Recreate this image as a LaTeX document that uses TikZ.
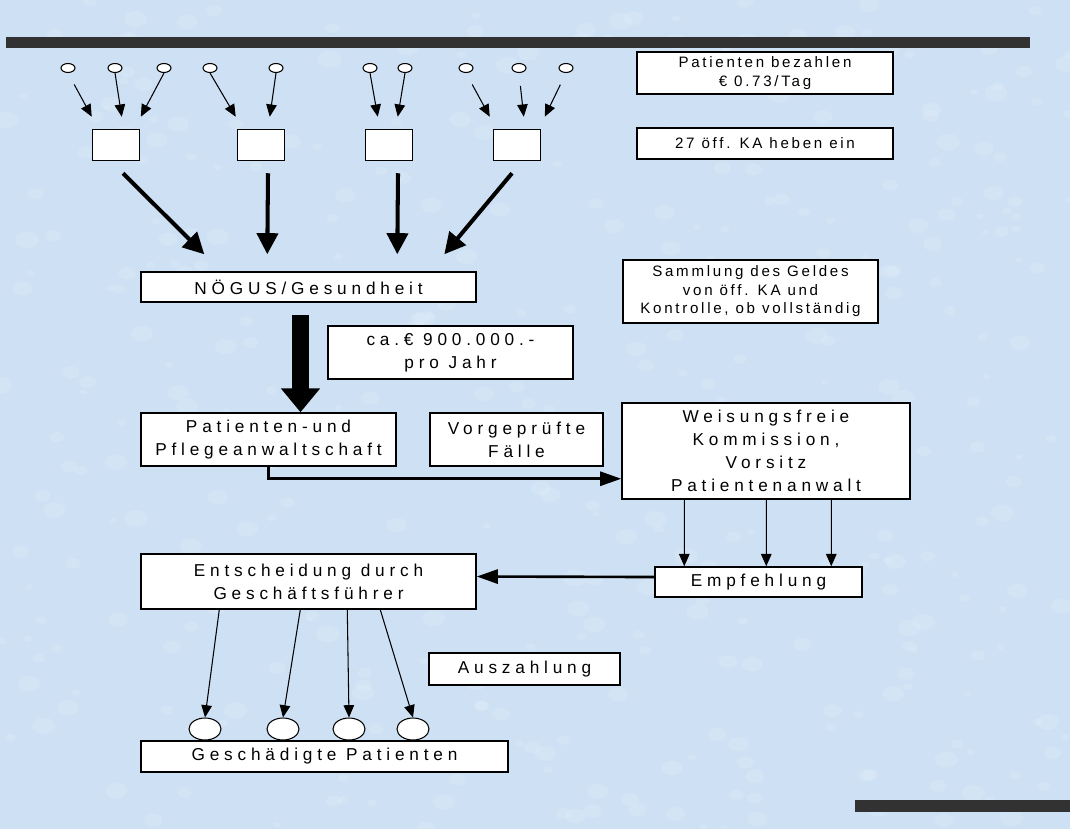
\documentclass[tikz,border=0pt]{standalone}
\usepackage{fontspec}
\setmainfont{Liberation Sans}
\newfontfamily\spacedfont[LetterSpace=28]{Liberation Sans}
\newfontfamily\notefont[LetterSpace=18]{Liberation Sans}
\usetikzlibrary{arrows.meta,positioning,calc,shapes.geometric}
\definecolor{paper}{RGB}{206,225,244}
\definecolor{balken}{RGB}{50,50,50}

\begin{document}
\begin{tikzpicture}[x=0.02cm, y=-0.02cm,
      kasten/.style={rectangle,draw=black,fill=white,line width=0.85pt,align=center,inner sep=0pt,
        font=\spacedfont\fontsize{9.8}{13}\selectfont},
      notiz/.style={kasten,font=\notefont\fontsize{8.6}{10.5}\selectfont},
      kabox/.style={kasten,minimum width=0.94cm,minimum height=0.62cm},
      punkt/.style={ellipse,draw=black,fill=white,line width=0.6pt,inner sep=0pt,minimum width=0.28cm,minimum height=0.18cm},
      patient/.style={ellipse,draw=black,fill=white,line width=0.6pt,inner sep=0pt,minimum width=0.64cm,minimum height=0.44cm},
      duenn/.style={line width=0.6pt,-{Triangle[length=7pt,width=6pt]}},
      dick/.style={line width=2.3pt,-{Triangle[length=12pt,width=12pt]}},
      fett/.style={line width=10pt,-{Triangle[length=13.6pt,width=21.5pt]}},
      mittel/.style={line width=1.5pt,-{Triangle[length=12pt,width=8pt]}}]
      \useasboundingbox (0,0) rectangle (1070,829);
      \fill[paper] (0,0) rectangle (1070,829);
      % Hintergrundmuster
      \pgfmathsetseed{17}
      \foreach \i in {1,...,400}{
        \pgfmathsetmacro\rx{rnd*1070}
        \pgfmathsetmacro\ry{rnd*829}
        \pgfmathsetmacro\rr{3+rnd*9}
        \fill[white,opacity=0.12] (\rx,\ry) ellipse ({\rr*0.02cm} and {\rr*0.014cm});
      }
      \fill[balken] (6,37) rectangle (1030,48);
      \fill[balken] (855,800) rectangle (1070,812);

      % Krankenanstalten
      \node[kabox] at (116,145) (b1) {};
      \node[kabox] at (261,145) (b2) {};
      \node[kabox] at (389,145) (b3) {};
      \node[kabox] at (517,145) (b4) {};
      \foreach \n/\x in {1/68,2/115,3/164,4/210,5/276,6/370,7/405,8/466,9/519,10/566}
        \node[punkt] at (\x,68) (e\n) {};

      \draw[duenn,shorten <=0.26cm] (e1.south) -- ($(b1.north west)+(0,-12)$);
      \draw[duenn] (e2.south) -- ($(b1.north west)+(30,-12)$);
      \draw[duenn] (e3.south) -- ($(b1.north west)+(49,-12)$);
      \draw[duenn] (e4.south) -- ($(b2.north west)+(-1,-12)$);
      \draw[duenn] (e5.south) -- ($(b2.north west)+(33,-12)$);
      \draw[duenn] (e6.south) -- ($(b3.north west)+(13,-12)$);
      \draw[duenn] (e7.south) -- ($(b3.north west)+(33,-12)$);
      \draw[duenn,shorten <=0.26cm] (e8.south) -- ($(b4.north west)+(-3,-12)$);
      \draw[duenn,shorten <=0.26cm] (e9.south) -- ($(b4.north west)+(31,-12)$);
      \draw[duenn,shorten <=0.26cm] (e10.south) -- ($(b4.north west)+(52,-12)$);

      \node[notiz,minimum width=5.12cm,minimum height=0.84cm] at (765,73) (pb) {Patienten bezahlen\\€ 0.73/Tag};
      \node[notiz,minimum width=5.12cm,minimum height=0.62cm] at (765,143.5) (kh) {27 öff. KA heben ein};
      \node[notiz,minimum width=5.1cm,minimum height=1.26cm] at (750.5,291.5) (sg) {Sammlung des Geldes\\von öff. KA und\\Kontrolle, ob vollständig};

      % Geldfluss
      \node[kasten,minimum width=6.7cm,minimum height=0.6cm] at (308.5,287) (ng) {NÖGUS/Gesundheit};
      \draw[dick] ($(b1.south)+(7,12)$) -- ($(ng.north west)+(64,-17)$);
      \draw[dick] ($(b2.south)+(7,12)$) -- ($(ng.north west)+(127,-17)$);
      \draw[dick] ($(b3.south)+(9,12)$) -- ($(ng.north west)+(257,-17)$);
      \draw[dick] ($(b4.south)+(-5,12)$) -- ($(ng.north west)+(304,-17)$);

      \node[kasten,minimum width=4.9cm,minimum height=1.06cm] at (450.5,352.5) (ca) {ca.€ 900.000.-\\pro Jahr};
      \node[kasten,minimum width=5.1cm,minimum height=1.06cm] at (268.5,439.5) (pa) {Patienten-und\\Pflegeanwaltschaft};
      \draw[fett] ($(ng.south)+(-8,12)$) -- ($(pa.north)+(32,0)$);

      \node[kasten,minimum width=3.46cm,minimum height=1.06cm] at (516.5,439.5) (vf) {Vorgeprüfte\\Fälle};
      \node[kasten,minimum width=5.76cm,minimum height=1.92cm] at (766,451) (wk) {Weisungsfreie\\Kommission,\\Vorsitz\\Patientenanwalt};
      \draw[mittel] (pa.south) |- ($(wk.south west)+(0,-21)$);

      \node[kasten,minimum width=4.14cm,minimum height=0.6cm] at (758.5,582) (em) {Empfehlung};
      \foreach \dx in {63,145,210}
        \draw[duenn] ($(wk.south west)+(\dx,0)$) -- ($(em.north west)+(\dx-33,0)$);

      \node[kasten,minimum width=6.7cm,minimum height=1.1cm] at (308.5,581.5) (en) {Entscheidung durch\\Geschäftsführer};
      \draw[mittel] ($(em.west)+(0,-5)$) -- ($(en.east)+(0,-5)$);

      % Auszahlung
      \node[kasten,minimum width=3.82cm,minimum height=0.64cm] at (524.5,669) (az) {Auszahlung};
      \foreach \n/\x in {1/205,2/283,3/349,4/413}
        \node[patient] at (\x,729) (p\n) {};
      \draw[duenn] ($(en.south west)+(79,0)$) -- (p1.north);
      \draw[duenn] ($(en.south west)+(160,0)$) -- (p2.north);
      \draw[duenn] ($(en.south west)+(207,0)$) -- (p3.north);
      \draw[duenn] ($(en.south west)+(240,0)$) -- (p4.north);
      \node[kasten,minimum width=7.34cm,minimum height=0.62cm] at (324.5,756.5) (gp) {Geschädigte Patienten};
    \end{tikzpicture}
\end{document}
